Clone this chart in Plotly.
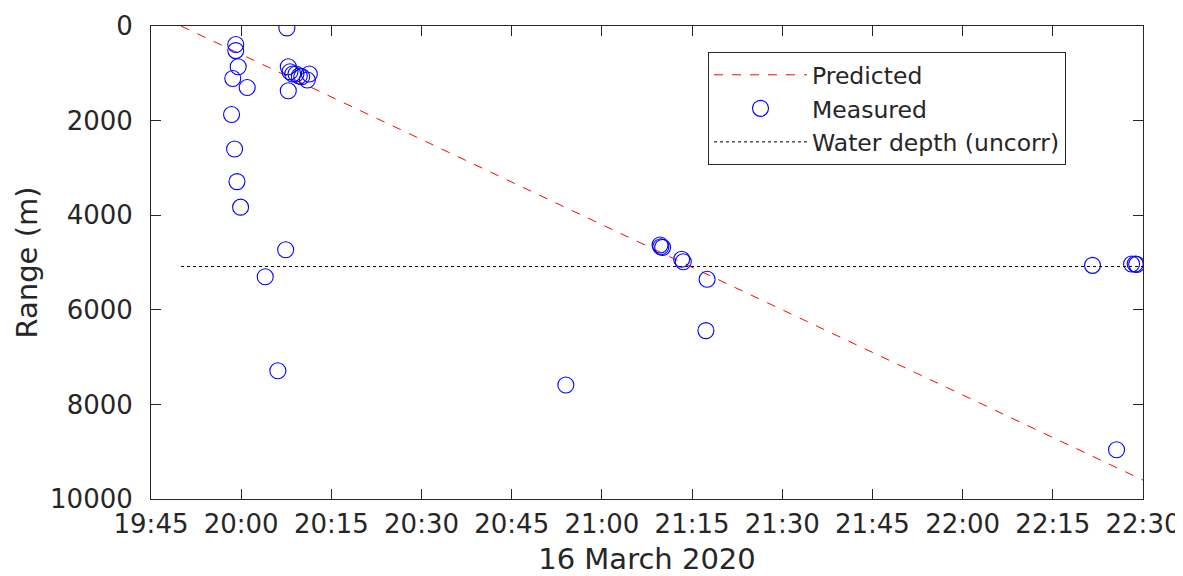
import plotly.graph_objects as go

DATE = "2020-03-16"

# Predicted range (red dashed line)
pred_times = ["19:50:00", "22:30:00"]
pred_range = [0, 9600]

# Measured ranges (blue open circles)
meas_times = [
    "20:07:36", "19:59:06", "19:59:06", "19:59:30", "19:58:36", "20:01:00",
    "19:58:24", "19:58:54", "19:59:18", "19:59:54", "20:07:24", "20:04:00",
    "20:06:06", "20:54:00",
    "20:07:50", "20:08:07", "20:08:34", "20:09:07", "20:09:40", "20:10:04",
    "20:11:20", "20:11:00", "20:07:50",
    "21:09:40", "21:09:48", "21:10:06", "21:13:16", "21:13:32", "21:17:30",
    "21:17:18",
    "22:21:36", "22:28:06", "22:28:42", "22:28:57", "22:25:36",
]
meas_range = [
    40, 390, 520, 860, 1110, 1300,
    1870, 2600, 3290, 3830, 4730, 5300,
    7290, 7590,
    860, 966, 1015, 1015, 1057, 1071,
    1015, 1142, 1368,
    4630, 4666, 4680, 4932, 4983, 5355,
    6440,
    5060, 5032, 5032, 5040, 8960,
]

# Water depth (uncorrected), black dotted line
depth_times = ["19:50:00", "22:30:00"]
depth_range = [5085, 5085]

x_range = ["19:45:00", "22:30:00"]
y_ticks = [0, 2000, 4000, 6000, 8000, 10000]


def ts(t):
    return f"{DATE} {t}"


AX = "#262626"
FONT = "DejaVu Sans"

fig = go.Figure()
fig.add_trace(go.Scatter(
    x=[ts(t) for t in pred_times], y=pred_range, mode="lines",
    name="Predicted", line=dict(color="#ff0000", width=1, dash="dash"),
))
fig.add_trace(go.Scatter(
    x=[ts(t) for t in meas_times], y=meas_range, mode="markers",
    name="Measured",
    marker=dict(symbol="circle-open", size=16, color="#0000ff",
                line=dict(width=1.1, color="#0000ff")),
))
fig.add_trace(go.Scatter(
    x=[ts(t) for t in depth_times], y=depth_range, mode="lines",
    name="Water depth (uncorr)", line=dict(color="#000000", width=1, dash="dot"),
))

fig.update_layout(
    width=1175, height=568,
    margin=dict(l=143, r=40, t=18, b=77, autoexpand=False),
    paper_bgcolor="white", plot_bgcolor="white",
    font=dict(family=FONT, size=26, color=AX),
    showlegend=True,
    legend=dict(
        x=0.5615, y=0.945, xanchor="left", yanchor="top",
        bgcolor="white", bordercolor=AX, borderwidth=1,
        font=dict(family=FONT, size=23.5, color=AX),
        itemwidth=93, tracegroupgap=0,
    ),
    xaxis=dict(
        type="date",
        range=[ts(x_range[0]), ts(x_range[1])],
        tick0=ts(x_range[0]), dtick=15 * 60 * 1000,
        tickformat="%H:%M",
        ticks="inside", ticklen=10, tickwidth=1, tickcolor=AX,
        showline=True, linecolor=AX, linewidth=1, mirror="ticks",
        showgrid=False, zeroline=False,
        tickfont=dict(size=26, color=AX),
        ticklabelstandoff=2,
        title=dict(text="16 March 2020", font=dict(size=29, color=AX), standoff=18),
        automargin=False,
    ),
    yaxis=dict(
        range=[10000, 0],
        tickvals=y_ticks, tickformat="d",
        ticks="inside", ticklen=10, tickwidth=1, tickcolor=AX,
        showline=True, linecolor=AX, linewidth=1, mirror="ticks",
        showgrid=False, zeroline=False,
        tickfont=dict(size=26, color=AX),
        ticklabelstandoff=12,
        title=dict(text="Range (m)", font=dict(size=29, color=AX), standoff=3),
        automargin=False,
    ),
)

fig.write_html("out.html")
